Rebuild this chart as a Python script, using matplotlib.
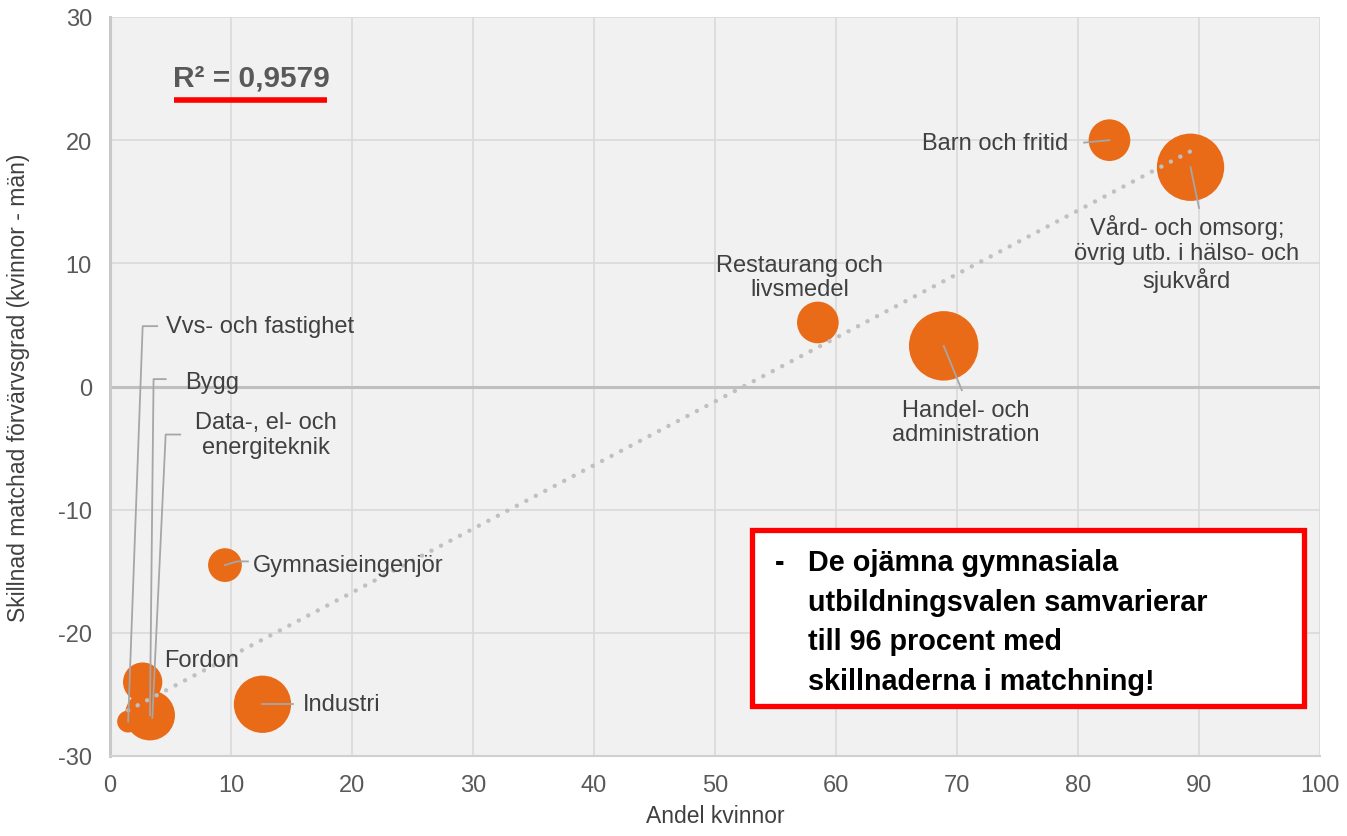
import numpy as np
import matplotlib
matplotlib.use("Agg")
import matplotlib.pyplot as plt

plt.rcParams["font.family"] = ["Liberation Sans", "DejaVu Sans"]
plt.rcParams["axes.unicode_minus"] = False

# data: andel kvinnor (%), skillnad matchad förvärvsgrad (kvinnor - män), bubbelstorlek
program = ["Barn och fritid", "Vård- och omsorg;\növrig utb. i hälso- och\nsjukvård",
           "Restaurang och\nlivsmedel", "Handel- och\nadministration", "Gymnasieingenjör",
           "Industri", "Fordon", "Bygg", "Data-, el- och\nenergiteknik", "Vvs- och fastighet"]
andel_kvinnor = [82.6, 89.3, 58.5, 68.9, 9.5, 12.6, 2.7, 3.3, 3.5, 1.5]
skillnad = [20.0, 17.8, 5.2, 3.3, -14.5, -25.8, -24.0, -26.7, -26.9, -27.2]
storlek = [900, 2350, 900, 2500, 590, 1700, 800, 1300, 120, 250]
r2_text = "R² = 0,9579"

# label placement (label x, label y, ha, va, leader corner or None)
label_pos = [
    (79.2, 19.8, "right", "center", [(80.5, 19.8)]),
    (89.0, 14.0, "center", "top", [(90.0, 14.5)]),
    (57.0, 7.0, "center", "bottom", None),
    (70.7, -1.0, "center", "top", [(70.4, -0.3)]),
    (11.8, -14.5, "left", "center", [(10.5, -14.2), (11.4, -14.2)]),
    (15.9, -25.8, "left", "center", [(15.1, -25.8)]),
    (4.5, -22.2, "left", "center", None),
    (6.2, 0.4, "left", "center", [(3.6, 0.6), (4.6, 0.6)]),
    (7.0, -3.9, "left", "center", [(4.6, -3.9), (5.8, -3.9)]),
    (4.6, 4.9, "left", "center", [(2.7, 4.9), (3.9, 4.9)]),
]

orange = "#E96A17"
text_col = "#404040"
tick_col = "#595959"

fig = plt.figure(figsize=(13.47, 8.37), dpi=100)
ax = fig.add_axes([110 / 1347, 80 / 837, 1210 / 1347, 739 / 837])
ax.set_facecolor("#f1f1f1")

ax.set_xlim(0, 100)
ax.set_ylim(-30, 30)
ax.set_xticks(np.arange(0, 101, 10))
ax.set_yticks(np.arange(-30, 31, 10))
ax.grid(True, color="#d9d9d9", linewidth=1.2, zorder=0)
ax.set_axisbelow(True)
ax.tick_params(length=0, labelsize=17, labelcolor=tick_col, pad=13)
for side in ["top", "right"]:
    ax.spines[side].set_visible(False)
ax.spines["left"].set_color("#c8c8c8")
ax.spines["left"].set_linewidth(2.2)
ax.spines["bottom"].set_color("#d0d0d0")
ax.spines["bottom"].set_linewidth(1.5)
ax.axhline(0, color="#bfbfbf", linewidth=2.2, zorder=1)

ax.set_xlabel("Andel kvinnor", fontsize=16.5, color=text_col, labelpad=6)
ax.set_ylabel("Skillnad matchad förvärvsgrad (kvinnor - män)", fontsize=16.5,
              color=text_col)
ax.yaxis.set_label_coords(-0.066, 0.5)

ax.scatter(andel_kvinnor, skillnad, s=storlek, color=orange, edgecolors="none", zorder=3)

# linear trend
k, m = np.polyfit(andel_kvinnor, skillnad, 1)
xs = np.array([min(andel_kvinnor), max(andel_kvinnor)])
ax.plot(xs, k * xs + m, color="#c0c0c0", linewidth=3.2, linestyle=(0, (0.01, 2.4)),
        dash_capstyle="round", zorder=4)

# labels with leader lines
for name, x, y, (lx, ly, ha, va, corner) in zip(program, andel_kvinnor, skillnad, label_pos):
    if corner:
        pts = [(x, y)] + corner
        ax.plot([p[0] for p in pts], [p[1] for p in pts], color="#a6a6a6",
                linewidth=1.3, zorder=5)
    ax.text(lx, ly, name, ha=ha, va=va, fontsize=17, color=text_col,
            multialignment="center", linespacing=1.15, zorder=6)

# R² annotation
ax.text(5.2, 25.1, r2_text, fontsize=21.5, fontweight="bold", color=tick_col,
        ha="left", va="center", zorder=6)
ax.plot([5.3, 17.9], [23.3, 23.3], color="red", linewidth=4, solid_capstyle="butt", zorder=6)

# message box
box_text = ("De ojämna gymnasiala\nutbildningsvalen samvarierar\n"
            "till 96 procent med\nskillnaderna i matchning!")
fig.text(808 / 1347, 1 - 549 / 837, box_text, fontsize=20.7, fontweight="bold",
         color="black", ha="left", va="top", linespacing=1.53, zorder=10)
fig.text(775 / 1347, 1 - 549 / 837, "-", fontsize=20.7, fontweight="bold",
         color="black", ha="left", va="top", zorder=10)
box = plt.Rectangle((752 / 1347, 1 - 707 / 837), 552 / 1347, 176 / 837,
                    transform=fig.transFigure, facecolor="white", edgecolor="red",
                    linewidth=3.8, zorder=9)
fig.add_artist(box)

fig.savefig("out.png", dpi=100)
